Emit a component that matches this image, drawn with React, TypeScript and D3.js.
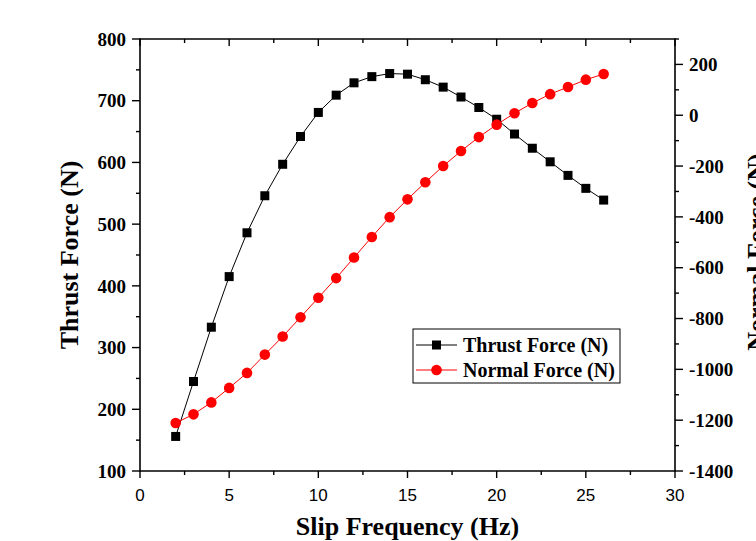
import React from "react";
import * as d3 from "d3";

// Slip frequency sweep (Hz)
const slipFrequency = [2, 3, 4, 5, 6, 7, 8, 9, 10, 11, 12, 13, 14, 15, 16, 17, 18, 19, 20, 21, 22, 23, 24, 25, 26];
// Thrust force (N), left axis
const thrustForce = [156, 245, 333, 415, 486, 546, 597, 642, 681, 709, 729, 739, 744, 743, 734, 722, 706, 689, 670, 646, 623, 601, 579, 558, 539];
// Normal force (N), right axis
const normalForce = [-1211, -1177, -1130, -1073, -1014, -942, -871, -795, -718, -641, -560, -479, -401, -331, -264, -200, -141, -86, -37, 8, 48, 83, 111, 140, 162];

const xTicks = [0, 5, 10, 15, 20, 25, 30];
const leftTicks = [100, 200, 300, 400, 500, 600, 700, 800];
const rightTicks = [-1400, -1200, -1000, -800, -600, -400, -200, 0, 200];

const W = 756;
const H = 541;
const M = { left: 140, right: 675, top: 39, bottom: 471 };

const serif = "'Liberation Serif', 'Times New Roman', serif";
const sans = "'Liberation Sans', Arial, sans-serif";

export default function App() {
  const x = d3.scaleLinear().domain([0, 30]).range([M.left, M.right]);
  const yL = d3.scaleLinear().domain([100, 800]).range([M.bottom, M.top]);
  const yR = d3.scaleLinear().domain([-1400, 300]).range([M.bottom, M.top]);

  const thrustPts: [number, number][] = slipFrequency.map((f, i) => [x(f), yL(thrustForce[i])]);
  const normalPts: [number, number][] = slipFrequency.map((f, i) => [x(f), yR(normalForce[i])]);
  const line = d3.line();

  const xMinor = d3.range(0, 30.01, 2.5);
  const leftMinor = d3.range(100, 800.01, 50);
  const rightMinor = d3.range(-1400, 300.01, 100);

  const sq = 9;

  return (
    <svg
      width={W}
      height={H}
      style={{ position: "absolute", left: 0, top: 0, background: "#fff" }}
    >
      <rect x={0} y={0} width={W} height={H} fill="#fff" />

      {/* data lines */}
      <path d={line(thrustPts) || ""} fill="none" stroke="#000" strokeWidth={1} />
      <path d={line(normalPts) || ""} fill="none" stroke="#ff0000" strokeWidth={1} />
      {thrustPts.map(([px, py], i) => (
        <rect key={"t" + i} x={px - sq / 2} y={py - sq / 2} width={sq} height={sq} fill="#000" />
      ))}
      {normalPts.map(([px, py], i) => (
        <circle key={"n" + i} cx={px} cy={py} r={5.3} fill="#ff0000" />
      ))}

      {/* frame */}
      <g stroke="#000" strokeWidth={1.6} fill="none">
        <line x1={M.left} x2={M.left} y1={M.top - 0.8} y2={M.bottom + 0.8} />
        <line x1={M.right} x2={M.right} y1={M.top - 0.8} y2={M.bottom + 0.8} />
        <line x1={M.left} x2={M.right} y1={M.top} y2={M.top} />
        <line x1={M.left} x2={M.right} y1={M.bottom} y2={M.bottom} />
      </g>

      {/* bottom and top ticks */}
      <g stroke="#000" strokeWidth={1.4}>
        {xMinor.map((v) => {
          const major = v % 5 === 0;
          const len = major ? 7 : 4;
          return (
            <g key={"xt" + v}>
              <line x1={x(v)} x2={x(v)} y1={M.bottom} y2={M.bottom + len} />
              <line x1={x(v)} x2={x(v)} y1={M.top} y2={M.top + len} />
            </g>
          );
        })}
        {leftMinor.map((v) => {
          const len = v % 100 === 0 ? 8 : 4;
          return <line key={"lt" + v} x1={M.left - len} x2={M.left} y1={yL(v)} y2={yL(v)} />;
        })}
        {rightMinor.map((v) => {
          const len = v % 200 === 0 ? 8 : 4;
          return <line key={"rt" + v} x1={M.right} x2={M.right + len} y1={yR(v)} y2={yR(v)} />;
        })}
      </g>

      {/* tick labels */}
      <g fontFamily={sans} fontSize={17} fill="#000" textAnchor="middle">
        {xTicks.map((v) => (
          <text key={"xl" + v} x={x(v)} y={M.bottom + 30}>
            {v}
          </text>
        ))}
      </g>
      <g fontFamily={serif} fontWeight="bold" fontSize={19} fill="#000">
        {leftTicks.map((v) => (
          <text key={"ll" + v} x={M.left - 14} y={yL(v)} dy="0.35em" textAnchor="end">
            {v}
          </text>
        ))}
        {rightTicks.map((v) => (
          <text key={"rl" + v} x={M.right + 14} y={yR(v)} dy="0.35em" textAnchor="start">
            {v}
          </text>
        ))}
      </g>

      {/* axis titles */}
      <g fontFamily={serif} fontWeight="bold" fontSize={26} fill="#000" textAnchor="middle">
        <text x={(M.left + M.right) / 2} y={535}>
          Slip Frequency (Hz)
        </text>
        <text transform={`translate(78,255) rotate(-90)`}>Thrust Force (N)</text>
        <text transform={`translate(765,252) rotate(-90)`}>Normal Force (N)</text>
      </g>

      {/* legend */}
      <g>
        <rect x={413} y={329} width={207} height={54} fill="#fff" stroke="#000" strokeWidth={1} />
        <line x1={416} x2={457} y1={345} y2={345} stroke="#000" strokeWidth={1} />
        <rect x={436.5 - sq / 2} y={345 - sq / 2} width={sq} height={sq} fill="#000" />
        <line x1={416} x2={457} y1={370} y2={370} stroke="#ff0000" strokeWidth={1} />
        <circle cx={436.5} cy={370} r={5.3} fill="#ff0000" />
        <g fontFamily={serif} fontWeight="bold" fontSize={20} fill="#000">
          <text x={463} y={345} dy="0.35em">
            Thrust Force (N)
          </text>
          <text x={463} y={370} dy="0.35em">
            Normal Force (N)
          </text>
        </g>
      </g>
    </svg>
  );
}
